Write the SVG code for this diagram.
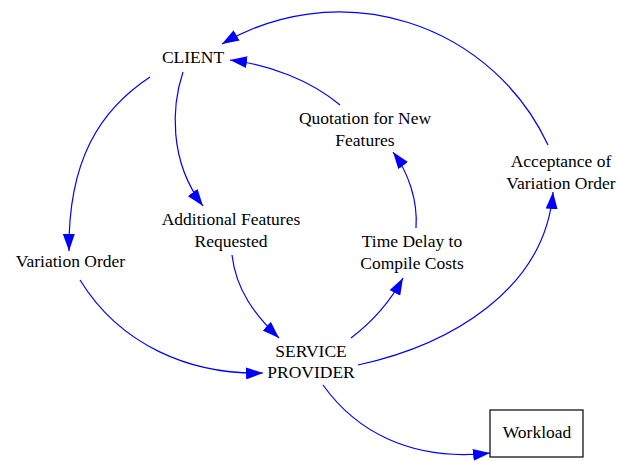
<svg xmlns="http://www.w3.org/2000/svg" width="619" height="461" viewBox="0 0 619 461">
  <defs>
    <style>
      .lbl { font-family: "Liberation Serif", "Times New Roman", serif; font-size: 17.5px; fill: #000; text-anchor: middle; }
      .link { fill: none; stroke: #0000ff; stroke-width: 1.2; marker-end: url(#ah); }
      .box { fill: #fff; stroke: #000; stroke-width: 1.2; }
    </style>
    <marker id="ah" markerWidth="17" markerHeight="12" refX="17" refY="6" orient="auto" markerUnits="userSpaceOnUse">
      <path d="M0,0 L17,6 L0,12 Z" fill="#0000ff"/>
    </marker>
  </defs>
  <rect width="619" height="461" fill="#fff"/>

  <g id="connectors">
    <path class="link" d="M150,77 C100,110 68,160 69,251"/>
    <path class="link" d="M183,72 C172,105 168,160 203,206"/>
    <path class="link" d="M232,255 C236,290 255,315 279,338"/>
    <path class="link" d="M80,280 C120,345 190,375 263,373"/>
    <path class="link" d="M351,338 C372,322 390,302 403,278"/>
    <path class="link" d="M416,228 C418,200 408,172 393,152"/>
    <path class="link" d="M340,105 C310,80 270,65 230,60"/>
    <path class="link" d="M548,145 A230.3 230.3 0 0 0 222,44"/>
    <path class="link" d="M358,365 C450,345 545,290 553,192"/>
    <path class="link" d="M323,385 C355,430 410,462 490,453"/>
  </g>

  <g id="client">
    <text class="lbl" x="193" y="63">CLIENT</text>
  </g>
  <g id="quotation">
    <text class="lbl" x="365" y="124">Quotation for New</text>
    <text class="lbl" x="365" y="146">Features</text>
  </g>
  <g id="acceptance">
    <text class="lbl" x="561" y="167">Acceptance of</text>
    <text class="lbl" x="561" y="189">Variation Order</text>
  </g>
  <g id="additional-features">
    <text class="lbl" x="231" y="225">Additional Features</text>
    <text class="lbl" x="231" y="247">Requested</text>
  </g>
  <g id="time-delay">
    <text class="lbl" x="412" y="247">Time Delay to</text>
    <text class="lbl" x="412" y="269">Compile Costs</text>
  </g>
  <g id="variation-order">
    <text class="lbl" x="70.5" y="267">Variation Order</text>
  </g>
  <g id="service-provider">
    <text class="lbl" x="311" y="357">SERVICE</text>
    <text class="lbl" x="311" y="378">PROVIDER</text>
  </g>
  <g id="workload">
    <rect class="box" x="490" y="410" width="93" height="47"/>
    <text class="lbl" x="537" y="438">Workload</text>
  </g>
</svg>
